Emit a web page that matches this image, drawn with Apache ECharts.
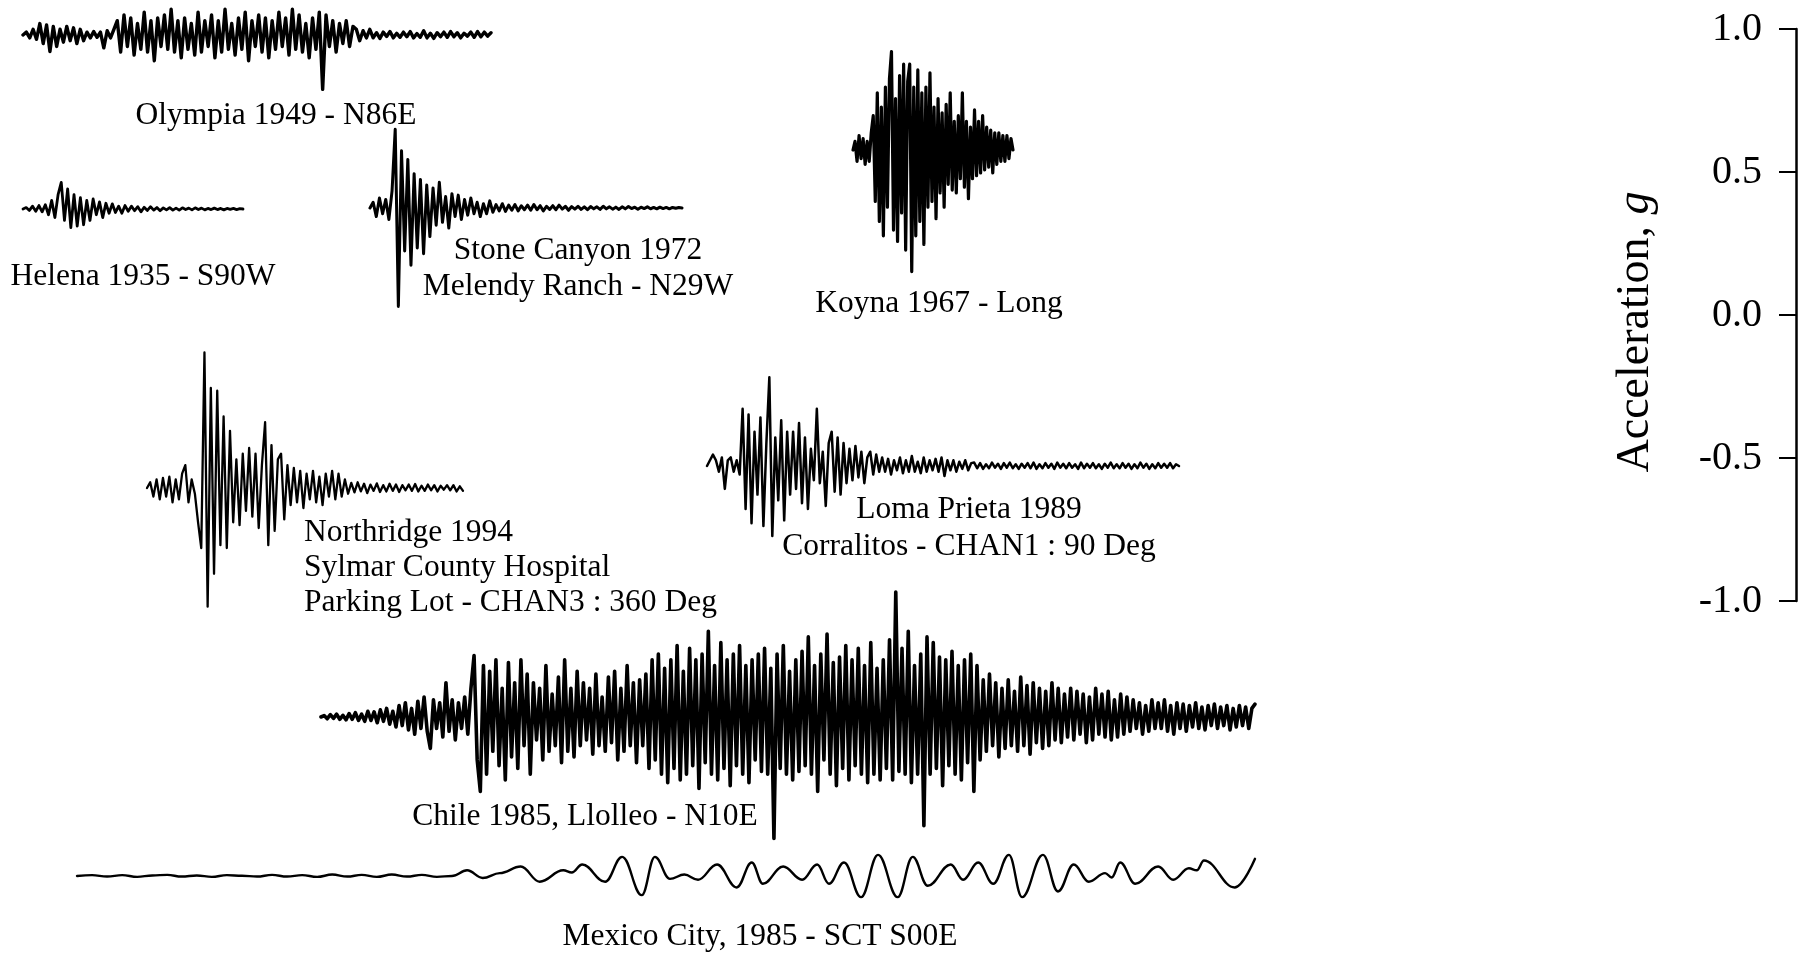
<!DOCTYPE html>
<html><head><meta charset="utf-8">
<script src="https://cdn.jsdelivr.net/npm/echarts@6/dist/echarts.min.js"></script>
<style>html,body{margin:0;padding:0;background:#fff}#c{width:1813px;height:955px}</style>
</head><body><div id="c"></div>
<script>
// ---- data (acceleration in g, uniform time steps) ----
const olympia = [0,0.01,-0.01,0.02,-0.015,0.04,-0.03,0.035,-0.058,0.03,-0.04,0.02,-0.025,0.03,-0.02,0.025,-0.03,0.02,-0.02,
0.01,-0.01,0.012,-0.008,0.01,-0.045,0.015,-0.01,0.02,
0.05,-0.06,0.07,-0.04,0.06,-0.07,0.04,-0.05,0.08,-0.06,0.05,-0.09,0.06,-0.04,0.07,-0.05,0.09,-0.06,0.05,-0.08,0.06,-0.05,0.04,-0.07,0.08,-0.06,0.05,-0.04,0.07,-0.08,0.05,-0.06,0.09,-0.05,0.04,-0.07,0.06,-0.05,0.08,-0.09,0.05,-0.04,0.07,-0.06,0.06,-0.08,0.05,-0.05,0.08,-0.04,0.06,-0.07,0.09,-0.05,0.07,-0.06,0.04,-0.08,0.06,-0.05,0.08,-0.19,0.07,-0.04,0.05,-0.06,0.04,-0.03,0.05,-0.04,0.03,
0.02,-0.02,0.015,-0.01,0.02,-0.01,0.008,-0.012,0.01,-0.005,0.012,-0.01,0.006,-0.008,0.01,-0.006,0.012,-0.01,0.005,-0.008,0.015,-0.01,0.006,-0.012,0.008,-0.006,0.01,-0.008,0.012,-0.006,0.008,-0.01,0.006,-0.004,0.01,-0.008,0.012,-0.006,0.01,-0.004,0.008];
const helena = [0,0.005,-0.005,0.01,-0.008,0.012,-0.01,0.015,-0.02,0.03,-0.03,0.05,0.093,-0.04,0.07,-0.065,0.05,-0.06,0.04,-0.055,0.03,-0.04,0.035,-0.02,0.025,-0.03,0.02,-0.015,0.018,-0.012,0.01,-0.015,0.012,-0.008,0.01,-0.006,0.008,-0.01,0.006,-0.005,0.008,-0.004,0.005,-0.006,0.004,-0.003,0.005,-0.004,0.003,-0.004,0.004,-0.002,0.003,-0.003,0.004,-0.002,0.003,-0.003,0.002,-0.002,0.003,-0.002,0.002,-0.003,0.002,-0.001,0.002,-0.002,0.001,0];
const stoneCanyon = [0,0.02,-0.03,0.035,-0.02,0.03,-0.04,0.06,0.275,-0.344,0.2,-0.15,0.17,-0.2,0.12,-0.14,0.1,-0.16,0.08,-0.1,0.07,-0.06,0.09,-0.05,0.04,-0.07,0.05,-0.03,0.045,-0.04,0.03,-0.025,0.035,-0.02,0.02,-0.03,0.015,-0.02,0.025,-0.015,0.012,-0.01,0.015,-0.012,0.01,-0.008,0.012,-0.01,0.008,-0.006,0.01,-0.008,0.012,-0.006,0.008,-0.01,0.006,-0.005,0.008,-0.006,0.01,-0.004,0.006,-0.008,0.005,-0.004,0.006,-0.005,0.004,-0.006,0.005,-0.003,0.004,-0.005,0.006,-0.003,0.004,-0.004,0.003,-0.005,0.004,-0.003,0.005,-0.002,0.003,-0.004,0.003,-0.002,0.004,-0.003,0.002,-0.003,0.003,-0.002,0.002,-0.003,0.002,-0.001,0.002,0];
const koyna = [0,0.03,-0.04,0.05,-0.03,0.04,-0.05,0.03,-0.04,0.06,
0.12,-0.18,0.2,-0.25,0.15,-0.3,0.22,-0.2,0.25,0.344,-0.28,
0.18,-0.32,0.26,-0.22,0.3,-0.35,0.24,0.3,-0.425,0.22,-0.3,0.28,-0.25,0.2,-0.33,
0.22,-0.2,0.27,-0.18,0.15,-0.24,0.18,-0.15,0.13,-0.2,0.16,-0.12,0.2,-0.14,0.1,
-0.15,0.12,-0.1,0.2,-0.13,0.1,-0.17,0.08,-0.1,0.14,-0.09,0.1,-0.08,0.12,-0.07,0.08,-0.06,0.07,-0.08,0.06,
-0.05,0.06,-0.04,0.05,-0.04,0.05,-0.03,0.04,0];
const northridge = [0,0.02,-0.03,0.03,-0.04,0.035,-0.03,0.04,-0.05,0.03,-0.04,0.05,0.08,-0.05,0.03,-0.02,
-0.12,-0.21,0.474,-0.415,0.35,-0.3,
0.34,-0.2,0.25,-0.21,0.2,
-0.12,0.1,-0.13,0.12,-0.08,
0.14,-0.1,0.12,-0.14,0.08,
0.23,-0.2,0.15,-0.15,0.1,
0.12,-0.11,0.08,-0.06,
0.07,-0.05,0.06,-0.07,0.05,-0.04,0.06,-0.05,0.04,-0.06,0.05,-0.03,
0.06,-0.04,0.05,-0.03,0.03,
-0.02,0.018,-0.015,0.02,-0.012,0.015,-0.018,0.012,-0.01,0.016,-0.014,0.01,-0.012,0.015,-0.01,0.012,-0.014,0.01,-0.008,0.012,-0.01,0.014,-0.012,0.008,-0.01,0.012,-0.008,0.01,-0.012,0.008,-0.006,0.01,-0.008,0.01,-0.012,0.006,-0.01];
const lomaPrieta = [0,0.02,0.04,0.02,-0.02,0.03,-0.08,0.02,0.03,-0.02,0.02,-0.03,
0.2,-0.15,0.18,-0.2,0.12,-0.1,
0.17,-0.21,
0.08,0.31,-0.245,0.1,
-0.12,0.16,-0.19,0.12,-0.1,
0.12,-0.08,0.15,-0.13,0.1,-0.15,0.06,
-0.05,0.2,-0.06,0.05,-0.14,0.08,
0.12,-0.09,0.1,-0.1,0.08,-0.06,
0.06,-0.05,0.07,-0.04,0.05,-0.06,0.03,
0.05,-0.03,0.04,-0.02,
0.03,-0.02,0.025,-0.03,0.02,-0.015,0.03,-0.025,0.02,-0.02,0.035,-0.02,0.015,-0.025,0.03,-0.02,0.02,-0.015,0.025,-0.02,0.03,-0.035,0.02,-0.015,0.02,-0.02,0.015,-0.01,0.02,-0.015,0.01,
0.012,-0.008,0.01,-0.01,0.006,-0.008,0.012,-0.006,0.008,-0.01,0.01,-0.006,0.012,-0.008,0.006,-0.01,0.008,-0.006,0.01,-0.008,0.012,-0.01,0.006,-0.008,0.01,-0.006,0.008,-0.01,0.012,-0.006,0.008,-0.008,0.01,-0.006,0.006,-0.01,0.012,-0.008,0.008,-0.006,0.01,-0.008,0.006,-0.01,0.008,-0.006,0.012,-0.008,0.006,-0.008,0.01,-0.006,0.008,-0.01,0.006,-0.008,0.012,-0.006,0.008,-0.01,0.006,-0.008,0.01,-0.006,0.008,-0.006,0.01,-0.008,0.006,0];
const chile = [0,0.005,-0.006,0.008,-0.005,0.01,-0.008,0.006,-0.01,0.012,-0.008,0.015,-0.012,0.01,-0.015,0.02,-0.012,0.018,-0.02,0.025,-0.015,0.03,-0.025,0.02,
-0.035,0.04,-0.03,0.05,-0.045,0.03,-0.06,0.055,-0.04,0.07,-0.05,-0.11,0.06,-0.04,0.05,-0.07,0.12,-0.05,0.06,-0.08,0.05,-0.04,0.07,
-0.06,0.1,0.215,-0.15,-0.26,0.18,-0.2,0.16,-0.12,0.2,-0.17,0.1,-0.22,0.19,-0.14,0.12,-0.18,0.2,-0.1,0.15,-0.2,0.12,-0.08,0.1,-0.15,0.18,-0.12,0.08,-0.1,0.14,-0.16,0.2,-0.12,0.1,-0.14,0.16,-0.1,0.12,-0.08,0.1,-0.13,0.15,-0.1,0.07,-0.12,0.14,-0.09,0.16,-0.15,0.1,-0.12,0.18,-0.1,0.12,-0.16,0.13,-0.1,0.15,
-0.18,0.2,-0.15,0.22,-0.2,0.17,-0.23,0.2,-0.18,0.25,-0.22,0.16,-0.2,0.24,-0.17,0.2,-0.25,0.22,-0.16,0.3,-0.2,0.18,-0.22,0.26,-0.18,0.2,-0.24,0.22,-0.17,0.25,-0.2,0.18,-0.23,0.2,-0.15,0.22,-0.19,0.24,-0.2,0.17,-0.425,0.22,-0.18,0.25,-0.2,0.16,-0.22,0.2,
-0.19,0.23,-0.17,0.28,-0.2,0.18,-0.26,0.22,-0.15,0.29,-0.2,0.19,-0.24,0.21,-0.18,0.25,-0.22,0.2,-0.17,0.24,-0.2,0.18,-0.23,0.26,-0.2,0.17,-0.22,0.2,-0.18,0.27,-0.22,0.437,-0.19,0.24,-0.2,0.3,-0.23,0.18,-0.2,0.22,-0.38,0.28,-0.2,0.26,-0.18,0.21,-0.24,0.2,-0.17,0.23,-0.2,0.18,-0.22,0.2,-0.16,0.22,-0.26,0.18,-0.15,
0.13,-0.12,0.15,-0.1,0.12,-0.14,0.1,-0.11,0.13,-0.1,0.09,-0.12,0.14,-0.1,0.11,-0.13,0.12,-0.09,0.1,-0.11,0.09,-0.1,0.12,-0.08,0.1,
-0.09,0.08,-0.07,0.1,-0.08,0.09,-0.06,0.08,-0.09,0.07,-0.08,0.1,-0.06,0.08,-0.07,0.09,-0.08,0.06,-0.07,0.08,-0.06,0.07,
-0.05,0.06,-0.04,0.05,-0.06,0.04,-0.05,0.06,-0.04,0.05,-0.04,0.06,-0.05,0.04,-0.06,0.05,-0.04,0.045,-0.05,0.04,-0.035,0.05,-0.04,0.035,-0.045,0.04,-0.03,0.045,-0.04,0.035,-0.03,0.04,-0.045,0.03,-0.035,0.04,-0.03,0.035,-0.04,0.03,0.045];
// Mexico City: turning points of the slow record (time in s, acceleration in g)
const mexicoTime = [0,2.3,4.6,6.9,9.2,11.5,13.8,16.0,18.3,20.6,22.9,25.2,27.5,29.8,32.1,34.4,36.7,39.0,41.3,43.5,45.8,48.1,50.4,52.7,55.0,57.3,
59.6,62.0,64.6,67.8,70.7,74.3,75.6,77.2,80.7,83.3,86.3,88.3,90.6,92.8,94.9,97.8,100.8,103.1,104.8,107.9,110.8,113.1,114.9,117.2,119.8,122.4,125.4,127.7,130.0,133.5,135.4,137.7,140.0,142.4,144.4,147.6,149.9,152.3,154.6,157.1,158.1,159.4,161.7,165.2,167.5,169.9,171.1,172.2,176.9,180];
const mexicoCity = [0,0.003,-0.002,0.003,-0.003,0.002,0.004,-0.002,0.002,-0.003,0.003,0.001,-0.002,0.004,-0.002,0.003,-0.003,0.005,-0.002,0.004,-0.003,0.005,-0.002,0.004,-0.003,0,
0.02,-0.007,0.01,0.033,-0.02,0.02,0.012,0.04,-0.02,0.067,-0.067,0.067,-0.01,0.005,-0.013,0.04,-0.04,0.047,-0.027,0.033,-0.013,0.04,-0.027,0.047,-0.074,0.074,-0.074,0.067,-0.034,0.04,-0.013,0.047,-0.027,0.074,-0.074,0.074,-0.054,0.04,-0.02,0.01,-0.005,0.047,-0.027,0.033,-0.013,0.027,0.02,0.054,-0.04,0.06];

const accelTicks = [-1.0, -0.5, 0.0, 0.5, 1.0];
const axisTitle = 'Acceleration, {i|g}';
const traceNames = ['Olympia 1949','Helena 1935','Stone Canyon 1972','Koyna 1967','Northridge 1994','Loma Prieta 1989','Chile 1985','Mexico City 1985'];
const traceData = [olympia, helena, stoneCanyon, koyna, northridge, lomaPrieta, chile, mexicoCity];
const traceTime = [null, null, null, null, null, null, null, mexicoTime];
const captions = [
  ['Olympia 1949 - N86E'],
  ['Helena 1935 - S90W'],
  ['Stone Canyon 1972','Melendy Ranch - N29W'],
  ['Koyna 1967 - Long'],
  ['Northridge 1994','Sylmar County Hospital','Parking Lot - CHAN3 : 360 Deg'],
  ['Loma Prieta 1989','Corralitos - CHAN1 : 90 Deg'],
  ['Chile 1985, Llolleo - N10E'],
  ['Mexico City, 1985 - SCT S00E']
];

// ---- layout (pixels) & styles ----
const W = 1813, H = 955;
const PX_PER_G = 286;
const layout = [
  {x0:23,  x1:491,  zero:35,  lw:3.4},
  {x0:23,  x1:243,  zero:209, lw:2.8},
  {x0:370, x1:682,  zero:208, lw:3.0},
  {x0:853, x1:1013, zero:150, lw:3.2},
  {x0:147, x1:463,  zero:488, lw:2.3},
  {x0:707, x1:1179, zero:466, lw:2.5},
  {x0:321, x1:1255, zero:717, lw:3.6},
  {x0:77,  x1:1255, zero:876, lw:2.4}
];
const captionPos = [
  {x:276, y:116, align:'center', dy:0},
  {x:143, y:277, align:'center', dy:0},
  {x:578, y:251, align:'center', dy:36},
  {x:939, y:304, align:'center', dy:0},
  {x:304, y:533, align:'left', dy:35},
  {x:969, y:510, align:'center', dy:37},
  {x:585, y:817, align:'center', dy:0},
  {x:760, y:937, align:'center', dy:0}
];
const FONT = '"Liberation Serif", "Times New Roman", serif';

const grid = [], xAxis = [], yAxis = [], series = [];
traceData.forEach((d, i) => {
  const L = layout[i];
  const t = traceTime[i];
  const top = Math.max(0, L.zero - PX_PER_G);
  const bottom = Math.min(H, L.zero + PX_PER_G);
  grid.push({left: L.x0, top: top, width: L.x1 - L.x0, height: bottom - top,
             containLabel:false, outerBoundsMode:'none'});
  xAxis.push({type:'value', gridIndex:i, min: t ? t[0] : 0, max: t ? t[t.length - 1] : d.length - 1, show:false});
  yAxis.push({type:'value', gridIndex:i, min:-(bottom - L.zero) / PX_PER_G, max:(L.zero - top) / PX_PER_G, show:false});
  series.push({
    name: traceNames[i], type:'line', xAxisIndex:i, yAxisIndex:i,
    data: d.map((v, k) => [t ? t[k] : k, v]),
    showSymbol:false, symbol:'none', clip:false,
    smooth: t ? 0.4 : false,
    smoothMonotone: t ? 'x' : undefined,
    lineStyle:{color:'#000', width: L.lw, join:'round', cap:'round'},
    silent:true
  });
});
// visible acceleration axis
const ai = traceData.length;
grid.push({left:1796, top:29, width:10, height:2 * PX_PER_G, containLabel:false, outerBoundsMode:'none'});
xAxis.push({type:'value', gridIndex:ai, show:false, min:0, max:1});
yAxis.push({
  type:'value', gridIndex:ai, position:'left',
  min: accelTicks[0], max: accelTicks[accelTicks.length - 1], interval: 0.5,
  axisLine:{show:true, lineStyle:{color:'#000', width:2.5}},
  axisTick:{show:true, length:17, lineStyle:{color:'#000', width:2}},
  splitLine:{show:false},
  axisLabel:{color:'#000', fontFamily:FONT, fontSize:40, margin:34, formatter: v => v.toFixed(1)}
});

const graphic = [];
captions.forEach((lines, i) => {
  const P = captionPos[i];
  lines.forEach((t, j) => {
    graphic.push({type:'text', x:P.x, y:P.y + j * P.dy, silent:true,
      style:{text:t, fill:'#000', font:'31.5px ' + FONT, align:P.align, textAlign:P.align,
             verticalAlign:'middle', textVerticalAlign:'middle'}});
  });
});
// axis title (rotated)
graphic.push({type:'text', x:1636, y:332, rotation:Math.PI / 2, silent:true,
  style:{text:axisTitle, fill:'#000', font:'46px ' + FONT, align:'center', textAlign:'center',
         verticalAlign:'middle', textVerticalAlign:'middle',
         rich:{i:{fontStyle:'italic', fontFamily:FONT, fontSize:46, fill:'#000', color:'#000'}}}});

const chart = echarts.init(document.getElementById('c'), null, {renderer:'canvas', width:W, height:H});
chart.setOption({animation:false, backgroundColor:'#fff', grid, xAxis, yAxis, series, graphic});
</script></body></html>
